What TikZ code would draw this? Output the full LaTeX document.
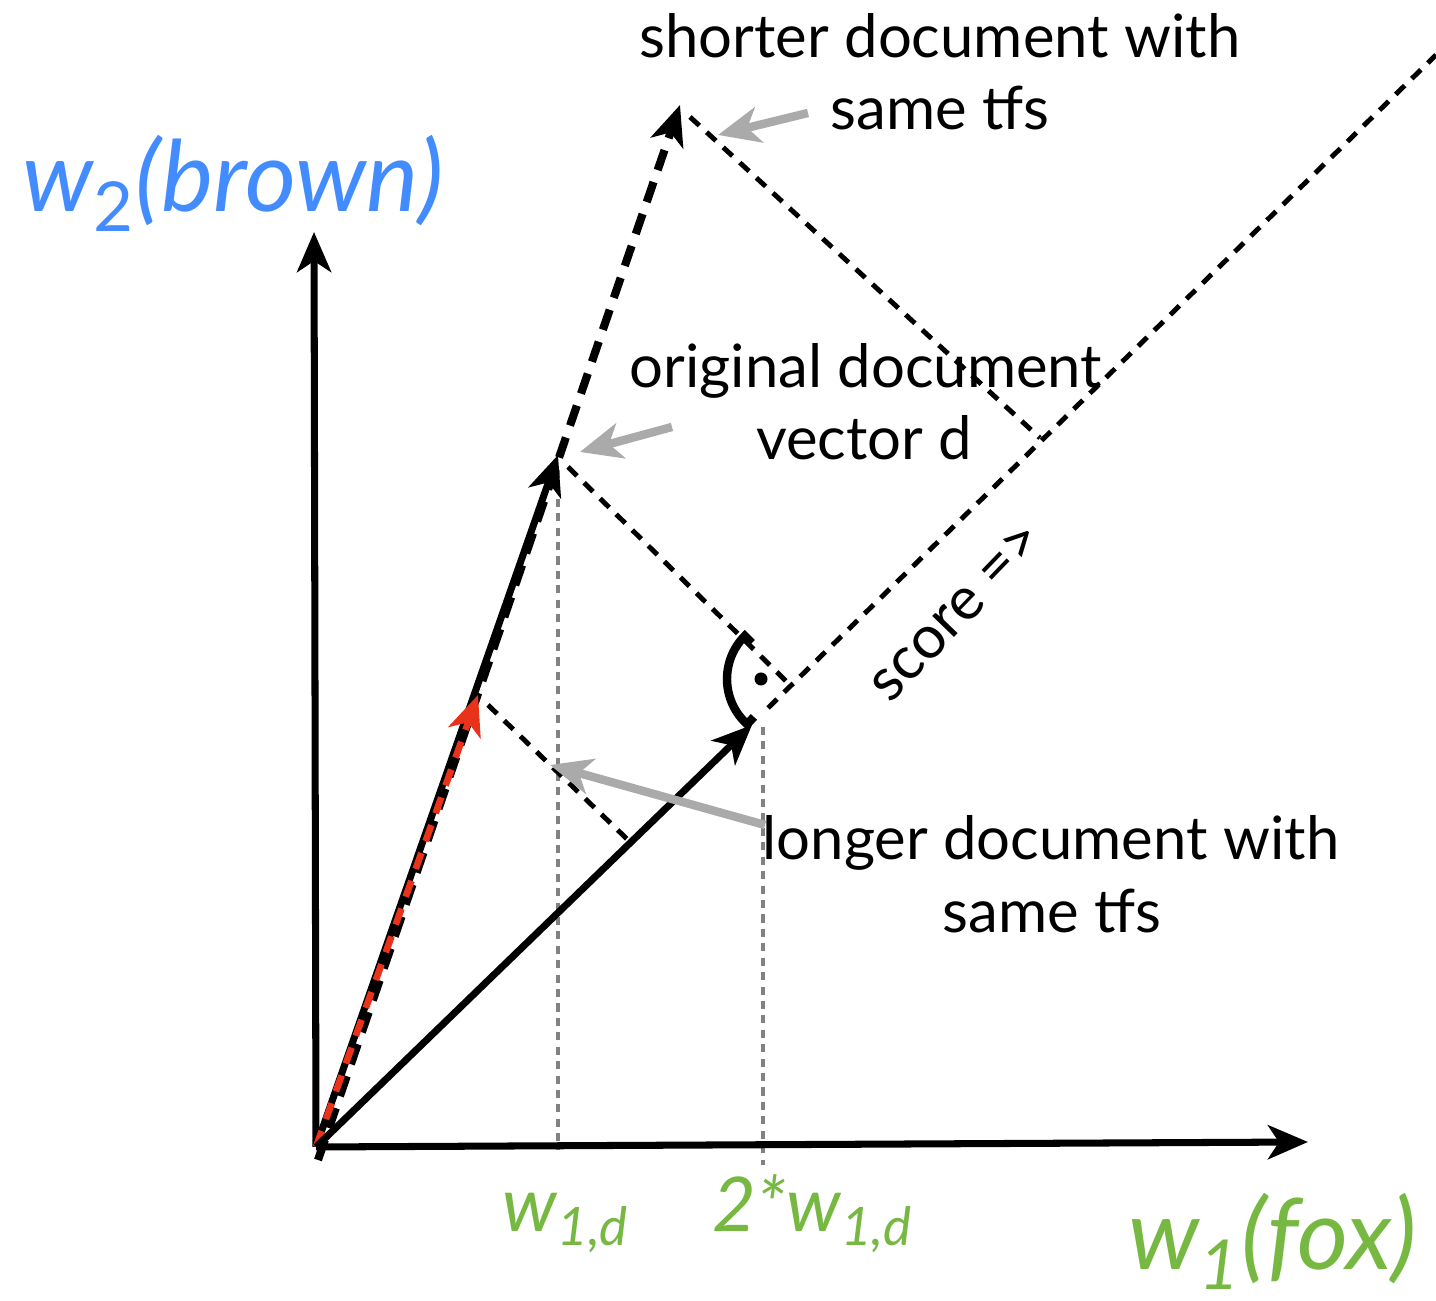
\documentclass[tikz,border=0pt]{standalone}
\usepackage{fontspec}
\setmainfont{Lato}
\usetikzlibrary{arrows.meta,calc}
\definecolor{wblue}{RGB}{66,140,255}
\definecolor{wgreen}{RGB}{118,184,66}
\definecolor{vred}{RGB}{232,50,26}
\definecolor{lgray}{RGB}{170,170,170}
\definecolor{dgray}{RGB}{130,130,130}
\begin{document}
\begin{tikzpicture}[x=0.01cm,y=0.01cm,
  tipk/.style={-{Stealth[length=0.4cm,width=0.34cm,inset=0.11cm]}},
  axisline/.style={line width=2pt,tipk},
  vecline/.style={line width=2pt,tipk},
  shortline/.style={line width=2.3pt,dash pattern=on 6pt off 3.6pt,tipk},
  redline/.style={vred,line width=1.9pt,dash pattern=on 4.8pt off 3.6pt,-{Stealth[length=0.4cm,width=0.34cm,inset=0.11cm]}},
  perp/.style={line width=1.4pt,dash pattern=on 3.6pt off 2.8pt},
  guide/.style={dgray,line width=0.9pt,dash pattern=on 2.3pt off 1.8pt},
  pointer/.style={lgray,line width=2.4pt,-{Stealth[length=0.42cm,width=0.36cm,inset=0.12cm]}},
  lbl/.style={font=\fontsize{17}{20}\selectfont,anchor=base,inner sep=0pt},
  axlbl/.style={font=\fontsize{28}{32}\selectfont\itshape,anchor=base west,inner sep=0pt},
  ticklbl/.style={wgreen,font=\fontsize{21.5}{24}\selectfont\itshape,anchor=base west,inner sep=0pt}
]
\useasboundingbox (0,0) rectangle (1436,1301);
% points
\coordinate (O) at (316,154);
\coordinate (Olow) at (318,141);
\coordinate (Ytip) at (314,1069);
\coordinate (Xtip) at (1308,159);
\coordinate (D) at (558,846);
\coordinate (S) at (680,1196);
\coordinate (R) at (478,606);
\coordinate (L) at (752,576);
\coordinate (Lstart) at (768,593);
\coordinate (Send) at (1436,1246);
\coordinate (FD) at (790,616);
\coordinate (FS) at (1040,863);
\coordinate (FR) at (628,461);
\coordinate (Dtop) at (558,831);
\coordinate (Dbot) at (558,151);
\coordinate (Ltop) at (763,574);
\coordinate (Lbot) at (763,136);
% guides
\draw[guide] (Dtop) -- (Dbot);
\draw[guide] (Ltop) -- (Lbot);
% axes
\draw[axisline] (O) -- (Ytip);
\draw[axisline] (O) -- (Xtip);
% perpendiculars and score line
\draw[perp] (Lstart) -- (Send);
\draw[perp] ($(D)+(10,-12)$) -- (FD);
\draw[perp] ($(S)+(10,-12)$) -- (FS);
\draw[perp] ($(R)+(10,-10)$) -- (FR);
% vectors
\draw[shortline] (Olow) -- (S);
\draw[vecline] (O) -- (D);
\draw[redline] (O) -- (R);
\draw[vecline] (O) -- (L);
% right-angle marker
\coordinate (RA) at (788,622);
\draw[line width=2.4pt] ($(RA)+(135:51)$) -- ($(RA)+(135:61)$) arc[start angle=135,end angle=228,radius=61] -- ($(RA)+(228:51)$);
\fill ($(RA)+(180:27)$) circle (6.5);
% grey pointers
\coordinate (P1a) at (808,1188);
\coordinate (P1b) at (718,1166);
\coordinate (P2a) at (672,874);
\coordinate (P2b) at (580,849);
\coordinate (P3a) at (765,476);
\coordinate (P3b) at (550,536);
\draw[pointer] (P1a) -- (P1b);
\draw[pointer] (P2a) -- (P2b);
\draw[pointer] (P3a) -- (P3b);
% labels
\node[lbl] (shA) at (940,1243) {shorter document with};
\node[lbl] (shB) at (940,1171) {same tfs};
\node[lbl] (orA) at (866,913) {original document};
\node[lbl] (orB) at (864,841) {vector d};
\node[lbl] (loA) at (1051,441) {longer document with};
\node[lbl] (loB) at (1052,368) {same tfs};
\node[font=\fontsize{17}{20}\selectfont,rotate=46,inner sep=0pt] (score) at (957,689) {score =>};
\node[axlbl,wblue] (w2) at (22,1089) {w\textsubscript{\upshape 2}(brown)};
\node[axlbl,wgreen] (w1) at (1128,31) {w\textsubscript{1}(fox)};
\node[ticklbl] (t1) at (502,69) {w\textsubscript{1,d}};
\node[ticklbl] (t2) at (712,69) {2*w\textsubscript{1,d}};
\end{tikzpicture}
\end{document}
